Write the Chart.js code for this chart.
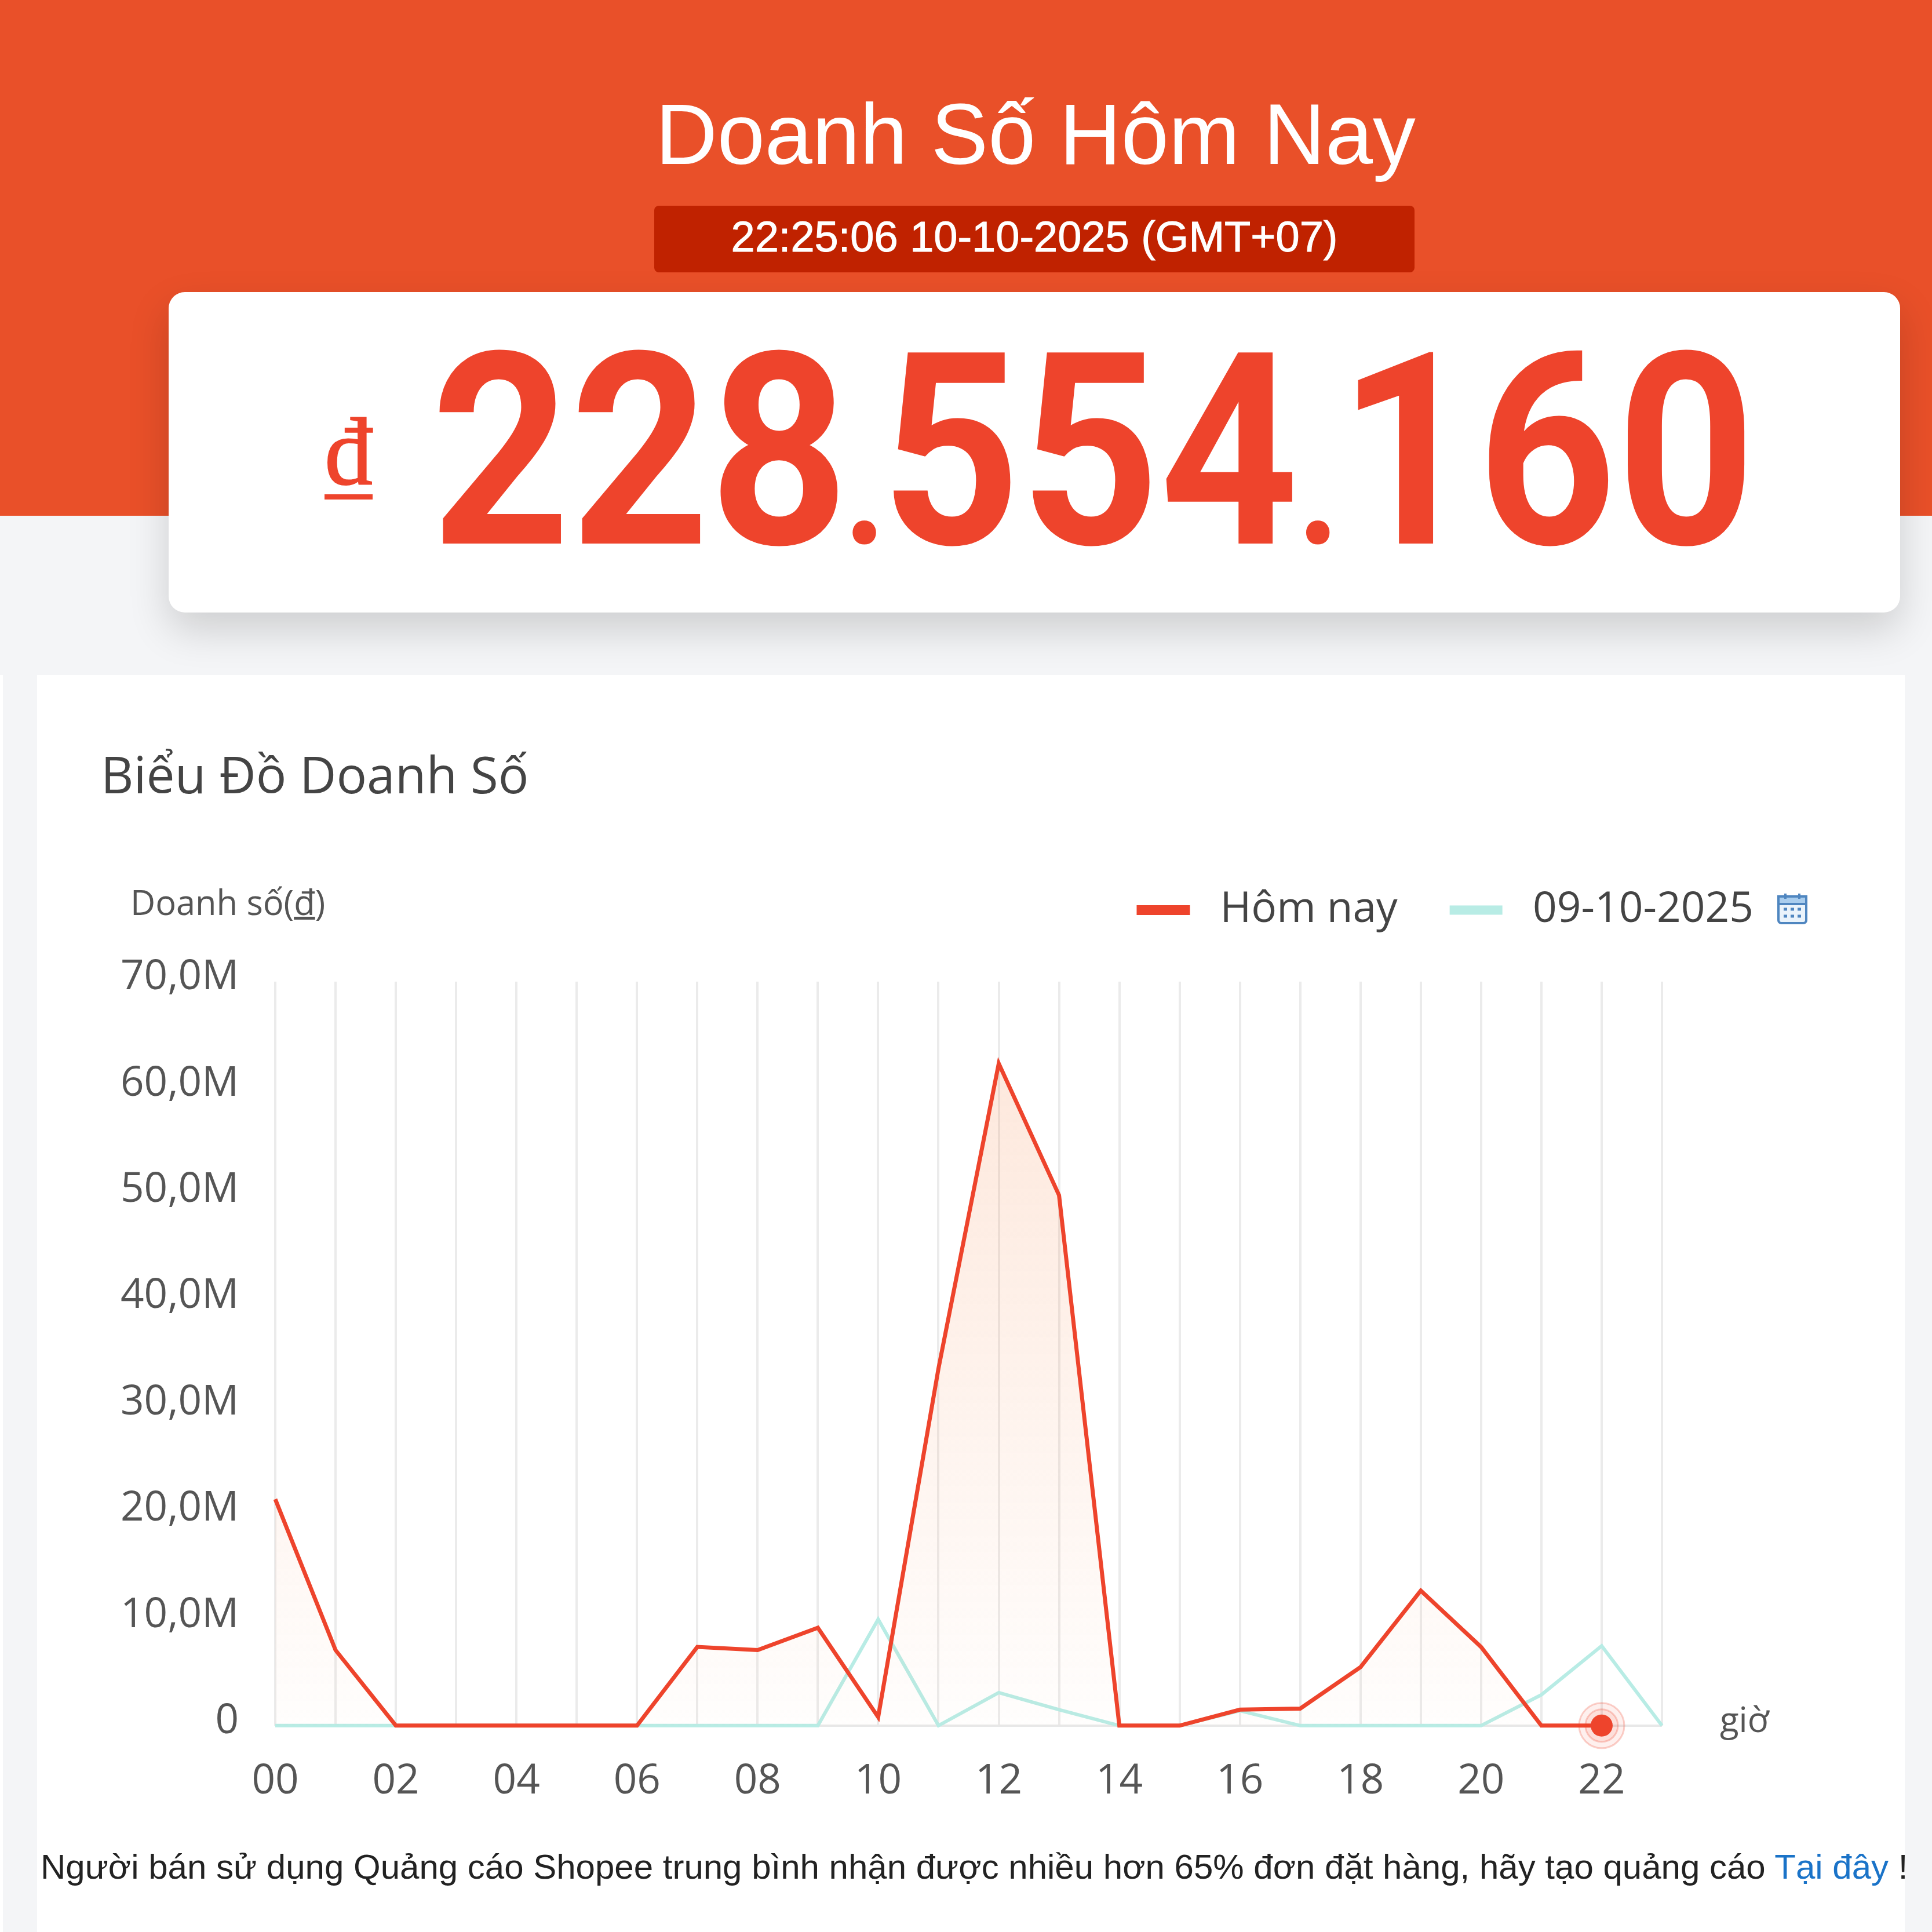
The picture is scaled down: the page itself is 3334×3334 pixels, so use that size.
<!DOCTYPE html>
<html lang="vi">
<head>
<meta charset="utf-8">
<title>Doanh Số Hôm Nay</title>
<script src="https://cdn.jsdelivr.net/npm/chart.js@4"></script>
<style>
  html, body { margin: 0; padding: 0; }
  body { position: relative; width: 3334px; height: 3334px; overflow: hidden; background: #f4f5f7; font-family: "Liberation Sans", sans-serif; }
  .abs { position: absolute; white-space: nowrap; }
  #header { left: 0; top: 0; width: 3334px; height: 890px; background: #e95029; }
  #heading { left: 0; width: 3574px; top: 142px; text-align: center; font-size: 147.5px; line-height: 180px; color: #fff; }
  #clockBox { left: 1129px; top: 355px; width: 1312px; height: 115px; background: #c02200; border-radius: 8px; color: #fff; text-align: center; font-size: 74px; line-height: 108px; -webkit-text-stroke: 1px #fff; }
  #totalCard { left: 291px; top: 504px; width: 2988px; height: 553px; background: #fff; border-radius: 28px; box-shadow: 0 30px 70px rgba(0, 0, 0, .16); }
  #currency { left: 560px; top: 684px; font-family: "Liberation Serif", serif; font-size: 166px; line-height: 190px; color: #ee442c; -webkit-text-stroke: 2px #ee442c; text-decoration: underline; text-decoration-thickness: 9px; text-underline-offset: 18px; }
  #total { left: 744px; top: 500px; font-family: Roboto, sans-serif; font-weight: 700; font-size: 464px; line-height: 560px; color: #ee442c; transform: scaleX(.902); transform-origin: left center; }
  #total span { font-size: 281px; margin: 0 -9.5px; }
  #total span:last-of-type { margin: 0 -3px; }
  #chartCard { left: 64px; top: 1165px; width: 3223px; height: 2169px; background: #fff; }
  #sideStrip { left: 0; top: 1165px; width: 5px; height: 2169px; background: #fff; }
  #chartTitle { left: 174px; top: 1270px; font-family: "Open Sans", sans-serif; font-size: 87.5px; line-height: 130px; color: #444; }
  #axisName { left: 225px; top: 1506px; font-family: "Open Sans", sans-serif; font-size: 59.5px; line-height: 100px; color: #555; }
  #salesChart { position: absolute; left: 64px; top: 1413px; }
  #calendarIcon { left: 3066px; top: 1540px; }
  #adNote { left: 70px; top: 3182px; font-size: 60px; line-height: 80px; color: #222; }
  #adNote a { color: #1a73c8; text-decoration: none; }
</style>
</head>
<body>
<div class="abs" id="header"></div>
<div class="abs" id="heading">Doanh Số Hôm Nay</div>
<div class="abs" id="clockBox">22:25:06 10-10-2025 (GMT+07)</div>
<div class="abs" id="totalCard"></div>
<div class="abs" id="currency">đ</div>
<div class="abs" id="total">228<span>.</span>554<span>.</span>160</div>
<div class="abs" id="sideStrip"></div>
<div class="abs" id="chartCard"></div>
<div class="abs" id="chartTitle">Biểu Đồ Doanh Số</div>
<div class="abs" id="axisName">Doanh số(<u>đ</u>)</div>
<canvas id="salesChart" width="3223" height="1818"></canvas>
<svg class="abs" id="calendarIcon" width="54" height="56" viewBox="0 0 54 56">
  <rect x="3" y="7" width="48" height="46" rx="5" fill="#eaf3fb" stroke="#4f86c0" stroke-width="4"/>
  <rect x="3" y="7" width="48" height="13" fill="#a9cdee" stroke="#4f86c0" stroke-width="4"/>
  <path d="M15 2v9M39 2v9" stroke="#4f86c0" stroke-width="4"/>
  <path d="M12 29h6M24 29h6M36 29h6M12 41h6M24 41h6M36 41h6" stroke="#4f86c0" stroke-width="5"/>
</svg>
<div class="abs" id="adNote">Người bán sử dụng Quảng cáo Shopee trung bình nhận được nhiều hơn 65% đơn đặt hàng, hãy tạo quảng cáo <a href="#">Tại đây</a> !</div>

<script>
const hours = ["00", "01", "02", "03", "04", "05", "06", "07", "08", "09", "10", "11",
  "12", "13", "14", "15", "16", "17", "18", "19", "20", "21", "22", "23"];
const todaySales = [21.3, 7.1, 0, 0, 0, 0, 0, 7.4, 7.1, 9.2, 0.8, 33.6,
  62.3, 49.9, 0, 0, 1.5, 1.6, 5.5, 12.7, 7.4, 0, 0, null];
const yesterdaySales = [0, 0, 0, 0, 0, 0, 0, 0, 0, 0, 10.0, 0,
  3.1, 1.5, 0, 0, 1.4, 0, 0, 0, 0, 2.9, 7.5, 0];
const currentPoint = [null, null, null, null, null, null, null, null, null, null, null, null,
  null, null, null, null, null, null, null, null, null, null, 0, null];

const RED = "#ee442c";
const TEAL = "#b8ece5";
const TICK_FONT = { family: "'Open Sans', sans-serif", size: 71 };

function salesFill(context) {
  const area = context.chart.chartArea;
  if (!area) return "rgba(238, 77, 45, .1)";
  const g = context.chart.ctx.createLinearGradient(0, area.top, 0, area.bottom);
  g.addColorStop(0, "rgba(245, 120, 50, .19)");
  g.addColorStop(1, "rgba(245, 120, 50, .01)");
  return g;
}

function ringDataset(radius, alpha) {
  return {
    label: "ring",
    data: currentPoint,
    showLine: false,
    clip: false,
    pointRadius: radius,
    pointBackgroundColor: `rgba(238, 68, 44, ${alpha})`,
    pointBorderColor: "rgba(238, 68, 44, .25)",
    pointBorderWidth: 3
  };
}

// extra room under the legend, chart.js has no option for it
const legendGap = {
  id: "legendGap",
  beforeInit(chart) {
    const fit = chart.legend.fit;
    chart.legend.fit = function () {
      fit.call(this);
      this.height += 77;
    };
  }
};

const chart = new Chart(document.getElementById("salesChart"), {
  type: "line",
  plugins: [legendGap],
  data: {
    labels: hours,
    datasets: [
      {
        label: "Hôm nay",
        data: todaySales,
        borderColor: RED,
        backgroundColor: RED,
        borderWidth: 7,
        pointRadius: 0,
        tension: 0,
        clip: false,
        fill: { target: "origin", above: salesFill }
      },
      {
        label: "09-10-2025",
        data: yesterdaySales,
        borderColor: TEAL,
        backgroundColor: TEAL,
        borderWidth: 6,
        pointRadius: 0,
        tension: 0,
        clip: false,
        fill: false
      },
      { ...ringDataset(19, 1), order: -3, pointBorderWidth: 0 },
      { ...ringDataset(28, .1), order: -2 },
      { ...ringDataset(39, .08), order: -1 }
    ]
  },
  options: {
    responsive: false,
    animation: false,
    layout: { padding: { left: 0, right: 168, top: 28, bottom: 60 } },
    plugins: {
      tooltip: { enabled: false },
      legend: {
        position: "top",
        align: "end",
        labels: {
          filter: item => item.text !== " ring",
          generateLabels: c => Chart.defaults.plugins.legend.labels.generateLabels(c)
            .map(item => ({ ...item, text: " " + item.text })),
          boxWidth: 85,
          boxHeight: 10,
          padding: 93,
          color: "#444",
          font: { family: "'Open Sans', sans-serif", size: 73 }
        }
      }
    },
    scales: {
      x: {
        offset: false,
        border: { display: false },
        grid: { color: "#ebebeb", lineWidth: 4, drawTicks: false },
        ticks: {
          autoSkip: false,
          maxRotation: 0,
          padding: 54,
          color: "#555",
          font: TICK_FONT,
          callback: (v, i) => (i % 2 === 0 ? hours[i] : "")
        }
      },
      y: {
        min: 0,
        max: 70,
        border: { display: false },
        afterFit: scale => { scale.width = 411; },
        grid: {
          lineWidth: 4,
          drawTicks: false,
          color: c => (c.tick.value === 0 ? "#e8e8e8" : "rgba(0, 0, 0, 0)")
        },
        ticks: {
          stepSize: 10,
          padding: 63,
          labelOffset: -7,
          color: "#555",
          font: TICK_FONT,
          callback: v => (v === 0 ? "0" : v.toFixed(1).replace(".", ",") + "M")
        }
      },
      unitAxis: {
        position: "right",
        min: 0,
        max: 70,
        border: { display: false },
        grid: { display: false },
        afterFit: scale => { scale.width = 251; },
        afterBuildTicks: scale => { scale.ticks = [{ value: 0 }]; },
        ticks: {
          padding: 92,
          labelOffset: -6,
          color: "#555",
          font: { family: "'Open Sans', sans-serif", size: 60 },
          callback: () => "giờ"
        }
      }
    }
  }
});
</script>
</body>
</html>
